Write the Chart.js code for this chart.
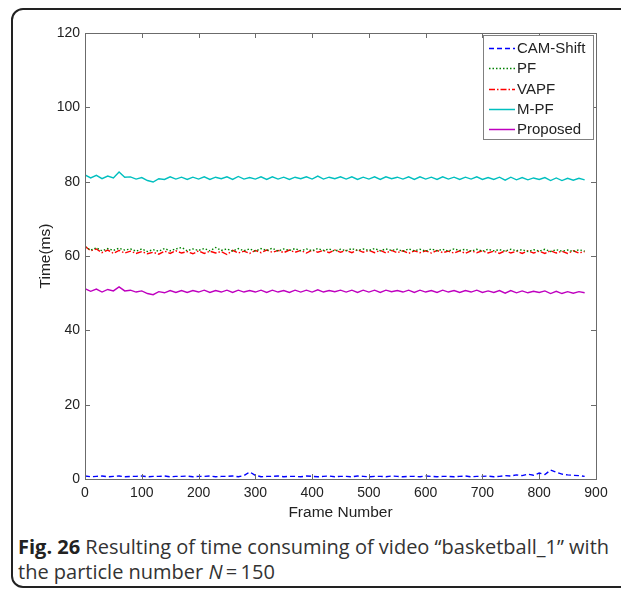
<!DOCTYPE html>
<html>
<head>
<meta charset="utf-8">
<script src="https://cdn.jsdelivr.net/npm/chart.js@4.4.1/dist/chart.umd.min.js"></script>
<style>
    body { margin: 0; background: #fff; width: 621px; height: 590px; overflow: hidden; position: relative; }
    #frame {
        position: absolute; left: 11px; top: 8px; width: 640px; height: 580px;
        border: 2px solid #222; border-radius: 12px; box-sizing: border-box;
    }
    #chart { position: absolute; left: 0; top: 0; }
    #caption {
        position: absolute; left: 18px; top: 534px; width: 603px; white-space: nowrap;
        font-family: "Open Sans", sans-serif; font-size: 20px; line-height: 25px; color: #333;
    }
    #caption b { color: #222; }
    #probe { position: absolute; left: -999px; font-family: "Liberation Sans"; }
</style>
</head>
<body>
<div id="frame"></div>
<span id="probe">0123 Frame</span>
<canvas id="chart" width="621" height="522"></canvas>
<div id="caption"><b>Fig. 26</b> Resulting of time consuming of video “basketball_1” with<br>the particle number <i>N</i>&thinsp;=&thinsp;150</div>
<script>
// frame index, every 10th frame
const frames = [
    0, 10, 20, 30, 40, 50, 60, 70, 80, 90,
    100, 110, 120, 130, 140, 150, 160, 170, 180, 190,
    200, 210, 220, 230, 240, 250, 260, 270, 280, 290,
    300, 310, 320, 330, 340, 350, 360, 370, 380, 390,
    400, 410, 420, 430, 440, 450, 460, 470, 480, 490,
    500, 510, 520, 530, 540, 550, 560, 570, 580, 590,
    600, 610, 620, 630, 640, 650, 660, 670, 680, 690,
    700, 710, 720, 730, 740, 750, 760, 770, 780, 790,
    800, 810, 820, 830, 840, 850, 860, 870, 880
];

const camShift = [
    0.8, 0.6, 0.7, 0.8, 0.6, 0.7, 0.8, 0.6, 0.7, 0.7,
    0.8, 0.6, 0.7, 0.7, 0.8, 0.6, 0.7, 0.7, 0.8, 0.6,
    0.7, 0.7, 0.8, 0.6, 0.7, 0.7, 0.8, 0.6, 0.9, 1.9,
    1.0, 0.6, 0.7, 0.7, 0.8, 0.6, 0.7, 0.7, 0.6, 0.8,
    0.7, 0.6, 0.7, 0.8, 0.6, 0.7, 0.7, 0.6, 0.8, 0.7,
    0.6, 0.7, 0.7, 0.6, 0.8, 0.7, 0.6, 0.7, 0.7, 0.6,
    0.8, 0.7, 0.6, 0.7, 0.7, 0.6, 0.7, 0.8, 0.6, 0.7,
    0.7, 0.8, 0.6, 0.7, 0.9, 0.8, 1.1, 0.9, 1.3, 1.0,
    1.6, 1.2, 2.4, 1.8, 1.3, 1.1, 1.0, 0.9, 0.7
];

const pf = [
    62.5, 61.6, 62.2, 61.4, 62.0, 61.5, 62.1, 61.6, 61.9, 61.3,
    61.9, 61.2, 61.7, 61.3, 62.0, 61.4, 61.9, 62.3, 61.4, 61.9,
    61.5, 62.0, 61.4, 62.3, 61.5, 61.9, 61.3, 62.0, 61.4, 61.9,
    61.3, 62.0, 61.5, 62.1, 61.3, 61.9, 61.5, 62.0, 61.4, 61.9,
    61.4, 62.0, 61.5, 61.9, 61.3, 61.8, 61.4, 62.0, 61.5, 61.9,
    61.5, 62.0, 61.4, 61.9, 61.5, 61.8, 61.3, 61.9, 61.4, 61.8,
    61.3, 61.9, 61.4, 61.8, 61.3, 61.9, 61.5, 61.8, 61.3, 61.8,
    61.3, 61.8, 61.4, 61.7, 61.3, 61.8, 61.4, 61.7, 61.2, 61.7,
    61.3, 61.8, 61.2, 61.7, 61.3, 61.6, 61.2, 61.7, 61.3
];

const vapf = [
    62.6, 61.4, 61.9, 60.9, 61.6, 60.7, 61.5, 60.8, 61.3, 60.7,
    61.2, 60.6, 61.0, 60.5, 61.3, 60.7, 61.4, 60.8, 61.2, 60.6,
    61.4, 60.7, 61.3, 60.8, 61.2, 60.4, 61.5, 60.8, 61.3, 60.7,
    61.5, 60.9, 61.6, 61.0, 61.5, 60.9, 61.6, 61.0, 61.5, 60.8,
    61.6, 61.0, 61.5, 60.9, 61.6, 61.0, 61.5, 60.9, 61.7, 61.0,
    61.5, 60.9, 61.5, 60.8, 61.5, 60.9, 61.4, 60.7, 61.4, 60.9,
    61.4, 60.8, 61.5, 60.9, 61.3, 60.8, 61.4, 60.7, 61.4, 60.9,
    61.4, 60.8, 61.3, 60.7, 61.4, 60.8, 61.3, 60.7, 61.4, 60.8,
    61.3, 60.7, 61.4, 60.8, 61.3, 60.7, 61.4, 60.8, 61.2
];

const mpf = [
    81.8, 81.0, 81.7, 80.8, 81.5, 81.0, 82.6, 81.2, 81.3, 80.7,
    81.1, 80.3, 79.9, 80.8, 80.6, 81.3, 80.7, 81.2, 80.6, 81.2,
    80.7, 81.3, 80.6, 81.2, 80.8, 81.3, 80.6, 81.4, 80.7, 81.1,
    80.7, 81.3, 80.6, 81.3, 80.7, 81.2, 80.6, 81.2, 80.8, 81.3,
    80.7, 81.5, 80.7, 81.2, 80.8, 81.3, 80.7, 81.3, 80.6, 81.2,
    80.7, 81.3, 80.6, 81.3, 80.8, 81.2, 80.7, 81.3, 80.6, 81.3,
    80.7, 81.2, 80.6, 81.3, 80.7, 81.2, 80.6, 81.2, 80.7, 81.3,
    80.6, 81.1, 80.6, 81.2, 80.4, 81.2, 80.5, 81.1, 80.5, 81.0,
    80.6, 81.1, 80.3, 81.0, 80.3, 80.9, 80.4, 80.9, 80.5
];

const proposed = [
    51.2, 50.5, 51.1, 50.3, 51.0, 50.6, 51.7, 50.6, 50.8, 50.3,
    50.6, 49.9, 49.6, 50.4, 50.1, 50.7, 50.2, 50.7, 50.2, 50.7,
    50.3, 50.8, 50.2, 50.7, 50.3, 50.8, 50.2, 50.8, 50.3, 50.7,
    50.3, 50.8, 50.2, 50.8, 50.3, 50.7, 50.2, 50.8, 50.3, 50.8,
    50.3, 50.9, 50.3, 50.7, 50.4, 50.8, 50.3, 50.8, 50.2, 50.8,
    50.3, 50.8, 50.2, 50.8, 50.4, 50.7, 50.3, 50.8, 50.2, 50.8,
    50.3, 50.7, 50.2, 50.8, 50.3, 50.7, 50.2, 50.7, 50.3, 50.8,
    50.2, 50.6, 50.2, 50.7, 50.0, 50.7, 50.1, 50.6, 50.1, 50.5,
    50.2, 50.6, 49.9, 50.5, 49.9, 50.4, 50.0, 50.4, 50.1
];

const xTicks = [0, 100, 200, 300, 400, 500, 600, 700, 800, 900];
const yTicks = [0, 20, 40, 60, 80, 100, 120];

const AXIS_COLOR = '#6b6b6b';
const TEXT_COLOR = '#222';
const FONT = '"Liberation Sans", Arial, sans-serif';

const makeSeries = function(label, values, color, dash) {
    return {
        label : label,
        data : values.map((v, i) => ({ x : frames[i], y : v })),
        borderColor : color,
        backgroundColor : color,
        borderWidth : 1.4,
        borderDash : dash,
        pointRadius : 0,
        tension : 0,
        fill : false
    };
};

/* matlab style box, inward ticks and legend */
const matlabBox = {
    id : 'matlabBox',
    afterDraw : function(chart) {
        const ctx = chart.ctx;
        const a = chart.chartArea;
        const xs = chart.scales.x;
        const ys = chart.scales.y;

        ctx.save();
        ctx.strokeStyle = AXIS_COLOR;
        ctx.lineWidth = 1;
        ctx.setLineDash([]);
        ctx.strokeRect(a.left + 0.5, a.top + 0.5, a.right - a.left, a.bottom - a.top);

        ctx.beginPath();
        xTicks.forEach((t) => {
            const px = Math.round(xs.getPixelForValue(t)) + 0.5;
            ctx.moveTo(px, a.bottom);
            ctx.lineTo(px, a.bottom - 5);
            ctx.moveTo(px, a.top);
            ctx.lineTo(px, a.top + 5);
        });
        yTicks.forEach((t) => {
            const py = Math.round(ys.getPixelForValue(t)) + 0.5;
            ctx.moveTo(a.left, py);
            ctx.lineTo(a.left + 5, py);
            ctx.moveTo(a.right, py);
            ctx.lineTo(a.right - 5, py);
        });
        ctx.stroke();

        // legend box in the upper right corner
        const boxL = 483.5, boxT = 35.5, boxW = 110, boxH = 104;
        ctx.fillStyle = '#fff';
        ctx.fillRect(boxL, boxT, boxW, boxH);
        ctx.strokeStyle = '#808080';
        ctx.strokeRect(boxL, boxT, boxW, boxH);

        ctx.font = '15px ' + FONT;
        ctx.textBaseline = 'middle';
        ctx.textAlign = 'left';
        chart.data.datasets.forEach((ds, i) => {
            const y = 48 + i * 20.3;
            ctx.beginPath();
            ctx.strokeStyle = ds.borderColor;
            ctx.lineWidth = 1.5;
            ctx.setLineDash(ds.borderDash || []);
            ctx.moveTo(489, Math.round(y) + 0.5);
            ctx.lineTo(515, Math.round(y) + 0.5);
            ctx.stroke();
            ctx.fillStyle = TEXT_COLOR;
            ctx.fillText(ds.label, 517, y + 1);
        });
        ctx.restore();
    }
};
/* end */

const drawChart = function() {
    const ctx = document.getElementById('chart');
    new Chart(ctx.getContext('2d'), {
        type : 'line',
        data : {
            datasets : [
                makeSeries('CAM-Shift', camShift, '#0000ff', [5, 3]),
                makeSeries('PF', pf, '#008000', [1.5, 2]),
                makeSeries('VAPF', vapf, '#ff0000', [6, 2, 1.5, 2]),
                makeSeries('M-PF', mpf, '#00bfbf', []),
                makeSeries('Proposed', proposed, '#bf00bf', [])
            ]
        },
        options : {
            responsive : false,
            animation : false,
            devicePixelRatio : 1,
            layout : { padding : { top : 33, right : 25, left : 0, bottom : 0 } },
            plugins : {
                legend : { display : false },
                tooltip : { enabled : false }
            },
            scales : {
                x : {
                    type : 'linear',
                    min : 0,
                    max : 900,
                    afterFit : (s) => { s.height = 43; },
                    afterBuildTicks : (s) => { s.ticks = xTicks.map((v) => ({ value : v })); },
                    grid : { display : false, drawTicks : false },
                    border : { display : false },
                    ticks : {
                        padding : 6,
                        color : TEXT_COLOR,
                        maxRotation : 0,
                        font : { family : FONT, size : 14 }
                    },
                    title : {
                        display : true,
                        text : 'Frame Number',
                        color : TEXT_COLOR,
                        padding : { top : 0, bottom : 0 },
                        font : { family : FONT, size : 15.5 }
                    }
                },
                y : {
                    min : 0,
                    max : 120,
                    afterFit : (s) => { s.width = 85; },
                    afterBuildTicks : (s) => { s.ticks = yTicks.map((v) => ({ value : v })); },
                    grid : { display : false, drawTicks : false },
                    border : { display : false },
                    ticks : {
                        padding : 5,
                        color : TEXT_COLOR,
                        font : { family : FONT, size : 14 }
                    },
                    title : {
                        display : true,
                        text : 'Time(ms)',
                        color : TEXT_COLOR,
                        padding : { top : 36, bottom : 0 },
                        font : { family : FONT, size : 15.5 }
                    }
                }
            }
        },
        plugins : [matlabBox]
    });
};

// make sure the system font is ready before the canvas uses it
document.fonts.load('14px "Liberation Sans"').then(drawChart, drawChart);
</script>
</body>
</html>
